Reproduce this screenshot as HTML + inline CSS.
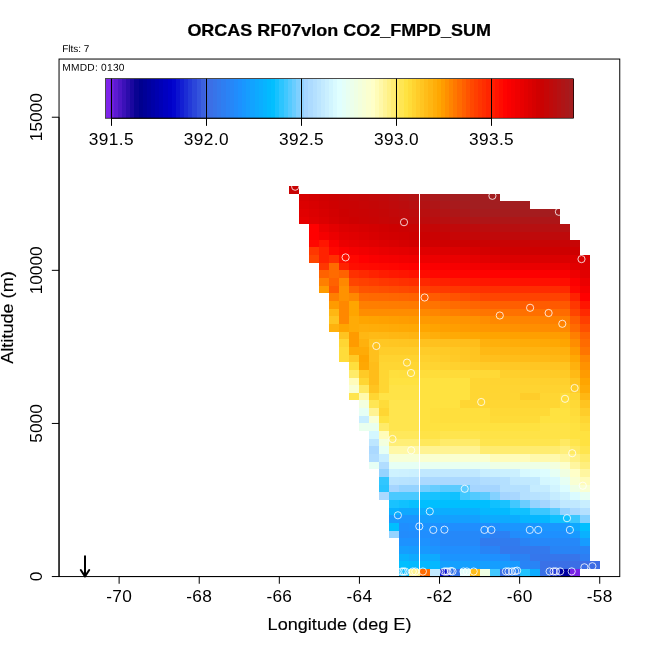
<!DOCTYPE html>
<html lang="en">
<head>
<meta charset="utf-8">
<title>ORCAS RF07vlon CO2_FMPD_SUM</title>
<style>
html,body{margin:0;padding:0;background:#fff;}
body{width:650px;height:650px;overflow:hidden;}
svg{display:block;}
text{font-family:"Liberation Sans",Arial,Helvetica,sans-serif;fill:#000;}
.t{font-size:17.28px;font-weight:bold;text-anchor:middle;stroke:#000;stroke-width:0.25px;}
.s{font-size:9.9px;}
.a{font-size:13px;text-anchor:middle;}
.l{font-size:17.28px;text-anchor:middle;}
.k{stroke:#000;stroke-width:0.15px;}
.m{letter-spacing:0.25px;}
.n{letter-spacing:0.3px;}
.c{font-size:17.28px;text-anchor:middle;letter-spacing:0.4px;}
</style>
</head>
<body>
<svg width="650" height="650" viewBox="0 0 650 650">
<rect width="650" height="650" fill="#fff"/>
<g shape-rendering="crispEdges">
<rect x="289" y="186" width="10" height="8" fill="#c90303"/>
<rect x="299" y="194" width="10" height="7" fill="#d70000"/>
<rect x="309" y="194" width="10" height="7" fill="#d30000"/>
<rect x="319" y="194" width="10" height="7" fill="#d00000"/>
<rect x="329" y="194" width="10" height="7" fill="#cc0101"/>
<rect x="339" y="194" width="10" height="7" fill="#c90303"/>
<rect x="349" y="194" width="10" height="7" fill="#c70505"/>
<rect x="359" y="194" width="10" height="7" fill="#c40606"/>
<rect x="369" y="194" width="10" height="7" fill="#c20808"/>
<rect x="379" y="194" width="10" height="7" fill="#c0090a"/>
<rect x="389" y="194" width="10" height="7" fill="#bc0c0d"/>
<rect x="399" y="194" width="10" height="7" fill="#b80f10"/>
<rect x="409" y="194" width="11" height="7" fill="#b31213"/>
<rect x="420" y="194" width="10" height="7" fill="#af1516"/>
<rect x="430" y="194" width="10" height="7" fill="#ab181a"/>
<rect x="440" y="194" width="10" height="7" fill="#a61b1d"/>
<rect x="450" y="194" width="10" height="7" fill="#a41c1e"/>
<rect x="460" y="194" width="40" height="7" fill="#a21e20"/>
<rect x="299" y="201" width="10" height="8" fill="#dc0000"/>
<rect x="309" y="201" width="10" height="8" fill="#d80000"/>
<rect x="319" y="201" width="10" height="8" fill="#d30000"/>
<rect x="329" y="201" width="10" height="8" fill="#cf0000"/>
<rect x="339" y="201" width="10" height="8" fill="#cb0202"/>
<rect x="349" y="201" width="10" height="8" fill="#c90303"/>
<rect x="359" y="201" width="10" height="8" fill="#c70505"/>
<rect x="369" y="201" width="10" height="8" fill="#c40606"/>
<rect x="379" y="201" width="10" height="8" fill="#c20808"/>
<rect x="389" y="201" width="10" height="8" fill="#bf0a0b"/>
<rect x="399" y="201" width="10" height="8" fill="#bb0c0d"/>
<rect x="409" y="201" width="11" height="8" fill="#b80f10"/>
<rect x="420" y="201" width="10" height="8" fill="#b31213"/>
<rect x="430" y="201" width="10" height="8" fill="#af1516"/>
<rect x="440" y="201" width="10" height="8" fill="#ab181a"/>
<rect x="450" y="201" width="10" height="8" fill="#a81a1c"/>
<rect x="460" y="201" width="10" height="8" fill="#a51c1e"/>
<rect x="470" y="201" width="60" height="8" fill="#a21e20"/>
<rect x="299" y="209" width="10" height="8" fill="#e10000"/>
<rect x="309" y="209" width="10" height="8" fill="#dc0000"/>
<rect x="319" y="209" width="10" height="8" fill="#d70000"/>
<rect x="329" y="209" width="10" height="8" fill="#d20000"/>
<rect x="339" y="209" width="10" height="8" fill="#cd0000"/>
<rect x="349" y="209" width="10" height="8" fill="#cb0202"/>
<rect x="359" y="209" width="10" height="8" fill="#c90303"/>
<rect x="369" y="209" width="10" height="8" fill="#c70405"/>
<rect x="379" y="209" width="10" height="8" fill="#c40606"/>
<rect x="389" y="209" width="10" height="8" fill="#c20809"/>
<rect x="399" y="209" width="10" height="8" fill="#bf0a0b"/>
<rect x="409" y="209" width="11" height="8" fill="#bc0c0d"/>
<rect x="420" y="209" width="10" height="8" fill="#b80f0f"/>
<rect x="430" y="209" width="10" height="8" fill="#b51112"/>
<rect x="440" y="209" width="10" height="8" fill="#b11415"/>
<rect x="450" y="209" width="10" height="8" fill="#ad1617"/>
<rect x="460" y="209" width="10" height="8" fill="#aa181a"/>
<rect x="470" y="209" width="30" height="8" fill="#a61b1d"/>
<rect x="500" y="209" width="10" height="8" fill="#a51c1d"/>
<rect x="510" y="209" width="30" height="8" fill="#a51c1e"/>
<rect x="540" y="209" width="20" height="8" fill="#a41c1e"/>
<rect x="299" y="217" width="10" height="7" fill="#e60000"/>
<rect x="309" y="217" width="10" height="7" fill="#e00000"/>
<rect x="319" y="217" width="10" height="7" fill="#db0000"/>
<rect x="329" y="217" width="10" height="7" fill="#d50000"/>
<rect x="339" y="217" width="10" height="7" fill="#d00000"/>
<rect x="349" y="217" width="10" height="7" fill="#cd0000"/>
<rect x="359" y="217" width="10" height="7" fill="#cb0202"/>
<rect x="369" y="217" width="10" height="7" fill="#c90303"/>
<rect x="379" y="217" width="10" height="7" fill="#c70505"/>
<rect x="389" y="217" width="10" height="7" fill="#c40606"/>
<rect x="399" y="217" width="10" height="7" fill="#c20808"/>
<rect x="409" y="217" width="11" height="7" fill="#c0090a"/>
<rect x="420" y="217" width="10" height="7" fill="#bd0b0c"/>
<rect x="430" y="217" width="10" height="7" fill="#ba0d0e"/>
<rect x="440" y="217" width="10" height="7" fill="#b80f10"/>
<rect x="450" y="217" width="10" height="7" fill="#b51112"/>
<rect x="460" y="217" width="10" height="7" fill="#b21314"/>
<rect x="470" y="217" width="10" height="7" fill="#af1516"/>
<rect x="480" y="217" width="10" height="7" fill="#af1517"/>
<rect x="490" y="217" width="10" height="7" fill="#ae1517"/>
<rect x="500" y="217" width="30" height="7" fill="#ae1617"/>
<rect x="530" y="217" width="30" height="7" fill="#ad1618"/>
<rect x="309" y="224" width="10" height="8" fill="#ff0000"/>
<rect x="319" y="224" width="10" height="8" fill="#eb0000"/>
<rect x="329" y="224" width="10" height="8" fill="#e30000"/>
<rect x="339" y="224" width="10" height="8" fill="#dc0000"/>
<rect x="349" y="224" width="10" height="8" fill="#d90000"/>
<rect x="359" y="224" width="10" height="8" fill="#d60000"/>
<rect x="369" y="224" width="10" height="8" fill="#d30000"/>
<rect x="379" y="224" width="10" height="8" fill="#d00000"/>
<rect x="389" y="224" width="10" height="8" fill="#cd0000"/>
<rect x="399" y="224" width="10" height="8" fill="#cb0102"/>
<rect x="409" y="224" width="11" height="8" fill="#c90303"/>
<rect x="420" y="224" width="10" height="8" fill="#c70505"/>
<rect x="430" y="224" width="10" height="8" fill="#c40606"/>
<rect x="440" y="224" width="10" height="8" fill="#c20808"/>
<rect x="450" y="224" width="10" height="8" fill="#c0090a"/>
<rect x="460" y="224" width="10" height="8" fill="#be0a0b"/>
<rect x="470" y="224" width="10" height="8" fill="#bd0b0c"/>
<rect x="480" y="224" width="10" height="8" fill="#bb0d0d"/>
<rect x="490" y="224" width="10" height="8" fill="#b90e0f"/>
<rect x="500" y="224" width="10" height="8" fill="#b80f10"/>
<rect x="510" y="224" width="10" height="8" fill="#b70f10"/>
<rect x="520" y="224" width="10" height="8" fill="#b71011"/>
<rect x="530" y="224" width="30" height="8" fill="#b61011"/>
<rect x="560" y="224" width="10" height="8" fill="#b51112"/>
<rect x="309" y="232" width="10" height="8" fill="#ff0000"/>
<rect x="319" y="232" width="10" height="8" fill="#f50000"/>
<rect x="329" y="232" width="10" height="8" fill="#ec0000"/>
<rect x="339" y="232" width="10" height="8" fill="#e30000"/>
<rect x="349" y="232" width="10" height="8" fill="#e00000"/>
<rect x="359" y="232" width="10" height="8" fill="#dc0000"/>
<rect x="369" y="232" width="10" height="8" fill="#d80000"/>
<rect x="379" y="232" width="10" height="8" fill="#d40000"/>
<rect x="389" y="232" width="10" height="8" fill="#d20000"/>
<rect x="399" y="232" width="10" height="8" fill="#d00000"/>
<rect x="409" y="232" width="11" height="8" fill="#cd0000"/>
<rect x="420" y="232" width="10" height="8" fill="#cb0101"/>
<rect x="430" y="232" width="10" height="8" fill="#ca0202"/>
<rect x="440" y="232" width="10" height="8" fill="#c80304"/>
<rect x="450" y="232" width="10" height="8" fill="#c70505"/>
<rect x="460" y="232" width="10" height="8" fill="#c50606"/>
<rect x="470" y="232" width="10" height="8" fill="#c30707"/>
<rect x="480" y="232" width="10" height="8" fill="#c20808"/>
<rect x="490" y="232" width="20" height="8" fill="#c0090a"/>
<rect x="510" y="232" width="10" height="8" fill="#bf090a"/>
<rect x="520" y="232" width="10" height="8" fill="#bf0a0a"/>
<rect x="530" y="232" width="20" height="8" fill="#bf0a0b"/>
<rect x="550" y="232" width="20" height="8" fill="#be0a0b"/>
<rect x="309" y="240" width="10" height="7" fill="#ff0700"/>
<rect x="319" y="240" width="10" height="7" fill="#ff1500"/>
<rect x="329" y="240" width="10" height="7" fill="#fa0000"/>
<rect x="339" y="240" width="10" height="7" fill="#eb0000"/>
<rect x="349" y="240" width="10" height="7" fill="#e70000"/>
<rect x="359" y="240" width="10" height="7" fill="#e30000"/>
<rect x="369" y="240" width="10" height="7" fill="#e00000"/>
<rect x="379" y="240" width="10" height="7" fill="#dc0000"/>
<rect x="389" y="240" width="10" height="7" fill="#d90000"/>
<rect x="399" y="240" width="10" height="7" fill="#d50000"/>
<rect x="409" y="240" width="11" height="7" fill="#d20000"/>
<rect x="420" y="240" width="10" height="7" fill="#d10000"/>
<rect x="430" y="240" width="10" height="7" fill="#d00000"/>
<rect x="440" y="240" width="10" height="7" fill="#ce0000"/>
<rect x="450" y="240" width="10" height="7" fill="#cd0000"/>
<rect x="460" y="240" width="10" height="7" fill="#cc0101"/>
<rect x="470" y="240" width="10" height="7" fill="#cb0101"/>
<rect x="480" y="240" width="10" height="7" fill="#ca0202"/>
<rect x="490" y="240" width="10" height="7" fill="#ca0203"/>
<rect x="500" y="240" width="10" height="7" fill="#c90303"/>
<rect x="510" y="240" width="10" height="7" fill="#c80303"/>
<rect x="520" y="240" width="10" height="7" fill="#c80304"/>
<rect x="530" y="240" width="10" height="7" fill="#c80404"/>
<rect x="540" y="240" width="20" height="7" fill="#c70404"/>
<rect x="560" y="240" width="10" height="7" fill="#c70405"/>
<rect x="570" y="240" width="10" height="7" fill="#c70505"/>
<rect x="309" y="247" width="10" height="8" fill="#ff3700"/>
<rect x="319" y="247" width="10" height="8" fill="#ff2200"/>
<rect x="329" y="247" width="10" height="8" fill="#ff0700"/>
<rect x="339" y="247" width="10" height="8" fill="#fc0000"/>
<rect x="349" y="247" width="10" height="8" fill="#f50000"/>
<rect x="359" y="247" width="10" height="8" fill="#f10000"/>
<rect x="369" y="247" width="10" height="8" fill="#ed0000"/>
<rect x="379" y="247" width="10" height="8" fill="#e90000"/>
<rect x="389" y="247" width="10" height="8" fill="#e60000"/>
<rect x="399" y="247" width="10" height="8" fill="#e40000"/>
<rect x="409" y="247" width="11" height="8" fill="#e10000"/>
<rect x="420" y="247" width="10" height="8" fill="#e00000"/>
<rect x="430" y="247" width="10" height="8" fill="#de0000"/>
<rect x="440" y="247" width="10" height="8" fill="#dd0000"/>
<rect x="450" y="247" width="10" height="8" fill="#db0000"/>
<rect x="460" y="247" width="10" height="8" fill="#da0000"/>
<rect x="470" y="247" width="10" height="8" fill="#d70000"/>
<rect x="480" y="247" width="10" height="8" fill="#d40000"/>
<rect x="490" y="247" width="10" height="8" fill="#d20000"/>
<rect x="500" y="247" width="10" height="8" fill="#d00000"/>
<rect x="510" y="247" width="20" height="8" fill="#cf0000"/>
<rect x="530" y="247" width="30" height="8" fill="#ce0000"/>
<rect x="560" y="247" width="20" height="8" fill="#cd0000"/>
<rect x="309" y="255" width="10" height="8" fill="#ff4500"/>
<rect x="319" y="255" width="10" height="8" fill="#ff2200"/>
<rect x="329" y="255" width="10" height="8" fill="#ff3000"/>
<rect x="339" y="255" width="10" height="8" fill="#ff0e00"/>
<rect x="349" y="255" width="10" height="8" fill="#ff0700"/>
<rect x="359" y="255" width="10" height="8" fill="#ff0000"/>
<rect x="369" y="255" width="10" height="8" fill="#fa0000"/>
<rect x="379" y="255" width="10" height="8" fill="#f70000"/>
<rect x="389" y="255" width="10" height="8" fill="#f50000"/>
<rect x="399" y="255" width="10" height="8" fill="#f20000"/>
<rect x="409" y="255" width="11" height="8" fill="#f00000"/>
<rect x="420" y="255" width="10" height="8" fill="#ee0000"/>
<rect x="430" y="255" width="10" height="8" fill="#ed0000"/>
<rect x="440" y="255" width="10" height="8" fill="#eb0000"/>
<rect x="450" y="255" width="10" height="8" fill="#ea0000"/>
<rect x="460" y="255" width="10" height="8" fill="#e90000"/>
<rect x="470" y="255" width="10" height="8" fill="#e50000"/>
<rect x="480" y="255" width="10" height="8" fill="#e20000"/>
<rect x="490" y="255" width="10" height="8" fill="#df0000"/>
<rect x="500" y="255" width="20" height="8" fill="#dc0000"/>
<rect x="520" y="255" width="30" height="8" fill="#db0000"/>
<rect x="550" y="255" width="40" height="8" fill="#da0000"/>
<rect x="319" y="263" width="10" height="7" fill="#ff3700"/>
<rect x="329" y="263" width="10" height="7" fill="#ff6b00"/>
<rect x="339" y="263" width="10" height="7" fill="#ff2200"/>
<rect x="349" y="263" width="10" height="7" fill="#ff0e00"/>
<rect x="359" y="263" width="10" height="7" fill="#ff0b00"/>
<rect x="369" y="263" width="10" height="7" fill="#ff0900"/>
<rect x="379" y="263" width="10" height="7" fill="#ff0700"/>
<rect x="389" y="263" width="10" height="7" fill="#ff0500"/>
<rect x="399" y="263" width="10" height="7" fill="#ff0200"/>
<rect x="409" y="263" width="11" height="7" fill="#ff0000"/>
<rect x="420" y="263" width="10" height="7" fill="#fd0000"/>
<rect x="430" y="263" width="10" height="7" fill="#fb0000"/>
<rect x="440" y="263" width="10" height="7" fill="#f90000"/>
<rect x="450" y="263" width="10" height="7" fill="#f70000"/>
<rect x="460" y="263" width="10" height="7" fill="#f50000"/>
<rect x="470" y="263" width="10" height="7" fill="#f30000"/>
<rect x="480" y="263" width="10" height="7" fill="#f10000"/>
<rect x="490" y="263" width="10" height="7" fill="#ef0000"/>
<rect x="500" y="263" width="10" height="7" fill="#ed0000"/>
<rect x="510" y="263" width="10" height="7" fill="#eb0000"/>
<rect x="520" y="263" width="30" height="7" fill="#ea0000"/>
<rect x="550" y="263" width="20" height="7" fill="#e90000"/>
<rect x="570" y="263" width="10" height="7" fill="#e10000"/>
<rect x="580" y="263" width="10" height="7" fill="#de0000"/>
<rect x="319" y="270" width="10" height="8" fill="#ff6200"/>
<rect x="329" y="270" width="10" height="8" fill="#ff6b00"/>
<rect x="339" y="270" width="10" height="8" fill="#ff6200"/>
<rect x="349" y="270" width="10" height="8" fill="#ff3000"/>
<rect x="359" y="270" width="10" height="8" fill="#ff2900"/>
<rect x="369" y="270" width="10" height="8" fill="#ff2200"/>
<rect x="379" y="270" width="10" height="8" fill="#ff1c00"/>
<rect x="389" y="270" width="10" height="8" fill="#ff1800"/>
<rect x="399" y="270" width="10" height="8" fill="#ff1500"/>
<rect x="409" y="270" width="11" height="8" fill="#ff1100"/>
<rect x="420" y="270" width="10" height="8" fill="#ff0c00"/>
<rect x="430" y="270" width="10" height="8" fill="#ff0700"/>
<rect x="440" y="270" width="10" height="8" fill="#ff0600"/>
<rect x="450" y="270" width="10" height="8" fill="#ff0500"/>
<rect x="460" y="270" width="10" height="8" fill="#ff0400"/>
<rect x="470" y="270" width="20" height="8" fill="#ff0300"/>
<rect x="490" y="270" width="10" height="8" fill="#ff0200"/>
<rect x="500" y="270" width="10" height="8" fill="#ff0100"/>
<rect x="510" y="270" width="10" height="8" fill="#ff0000"/>
<rect x="520" y="270" width="10" height="8" fill="#fe0000"/>
<rect x="530" y="270" width="10" height="8" fill="#fd0000"/>
<rect x="540" y="270" width="10" height="8" fill="#fc0000"/>
<rect x="550" y="270" width="10" height="8" fill="#fb0000"/>
<rect x="560" y="270" width="10" height="8" fill="#fa0000"/>
<rect x="570" y="270" width="10" height="8" fill="#ee0000"/>
<rect x="580" y="270" width="10" height="8" fill="#e10000"/>
<rect x="319" y="278" width="10" height="8" fill="#ff7f00"/>
<rect x="329" y="278" width="10" height="8" fill="#ff6200"/>
<rect x="339" y="278" width="10" height="8" fill="#ff8800"/>
<rect x="349" y="278" width="10" height="8" fill="#ff4500"/>
<rect x="359" y="278" width="10" height="8" fill="#ff4000"/>
<rect x="369" y="278" width="10" height="8" fill="#ff3c00"/>
<rect x="379" y="278" width="10" height="8" fill="#ff3700"/>
<rect x="389" y="278" width="10" height="8" fill="#ff3400"/>
<rect x="399" y="278" width="10" height="8" fill="#ff3000"/>
<rect x="409" y="278" width="11" height="8" fill="#ff2d00"/>
<rect x="420" y="278" width="10" height="8" fill="#ff2800"/>
<rect x="430" y="278" width="10" height="8" fill="#ff2200"/>
<rect x="440" y="278" width="10" height="8" fill="#ff2000"/>
<rect x="450" y="278" width="10" height="8" fill="#ff1d00"/>
<rect x="460" y="278" width="10" height="8" fill="#ff1b00"/>
<rect x="470" y="278" width="10" height="8" fill="#ff1800"/>
<rect x="480" y="278" width="10" height="8" fill="#ff1700"/>
<rect x="490" y="278" width="10" height="8" fill="#ff1500"/>
<rect x="500" y="278" width="10" height="8" fill="#ff1400"/>
<rect x="510" y="278" width="10" height="8" fill="#ff1300"/>
<rect x="520" y="278" width="10" height="8" fill="#ff1100"/>
<rect x="530" y="278" width="20" height="8" fill="#ff1000"/>
<rect x="550" y="278" width="10" height="8" fill="#ff0f00"/>
<rect x="560" y="278" width="10" height="8" fill="#ff0e00"/>
<rect x="570" y="278" width="10" height="8" fill="#fc0000"/>
<rect x="580" y="278" width="10" height="8" fill="#eb0000"/>
<rect x="319" y="286" width="10" height="7" fill="#ff9b00"/>
<rect x="329" y="286" width="10" height="7" fill="#ff5800"/>
<rect x="339" y="286" width="10" height="7" fill="#ff9200"/>
<rect x="349" y="286" width="10" height="7" fill="#ff6200"/>
<rect x="359" y="286" width="10" height="7" fill="#ff5300"/>
<rect x="369" y="286" width="10" height="7" fill="#ff5100"/>
<rect x="379" y="286" width="10" height="7" fill="#ff4e00"/>
<rect x="389" y="286" width="10" height="7" fill="#ff4b00"/>
<rect x="399" y="286" width="10" height="7" fill="#ff4800"/>
<rect x="409" y="286" width="11" height="7" fill="#ff4500"/>
<rect x="420" y="286" width="10" height="7" fill="#ff4000"/>
<rect x="430" y="286" width="10" height="7" fill="#ff3b00"/>
<rect x="440" y="286" width="10" height="7" fill="#ff3900"/>
<rect x="450" y="286" width="10" height="7" fill="#ff3700"/>
<rect x="460" y="286" width="10" height="7" fill="#ff3400"/>
<rect x="470" y="286" width="10" height="7" fill="#ff3200"/>
<rect x="480" y="286" width="10" height="7" fill="#ff3000"/>
<rect x="490" y="286" width="20" height="7" fill="#ff2f00"/>
<rect x="510" y="286" width="10" height="7" fill="#ff2e00"/>
<rect x="520" y="286" width="10" height="7" fill="#ff2d00"/>
<rect x="530" y="286" width="10" height="7" fill="#ff2c00"/>
<rect x="540" y="286" width="10" height="7" fill="#ff2b00"/>
<rect x="550" y="286" width="10" height="7" fill="#ff2a00"/>
<rect x="560" y="286" width="10" height="7" fill="#ff2900"/>
<rect x="570" y="286" width="10" height="7" fill="#ff0700"/>
<rect x="580" y="286" width="10" height="7" fill="#f50000"/>
<rect x="329" y="293" width="10" height="8" fill="#ff7f00"/>
<rect x="339" y="293" width="10" height="8" fill="#ff9200"/>
<rect x="349" y="293" width="10" height="8" fill="#ff8800"/>
<rect x="359" y="293" width="10" height="8" fill="#ff6b00"/>
<rect x="369" y="293" width="10" height="8" fill="#ff6900"/>
<rect x="379" y="293" width="10" height="8" fill="#ff6800"/>
<rect x="389" y="293" width="10" height="8" fill="#ff6600"/>
<rect x="399" y="293" width="10" height="8" fill="#ff6400"/>
<rect x="409" y="293" width="11" height="8" fill="#ff6200"/>
<rect x="420" y="293" width="10" height="8" fill="#ff5e00"/>
<rect x="430" y="293" width="10" height="8" fill="#ff5b00"/>
<rect x="440" y="293" width="10" height="8" fill="#ff5700"/>
<rect x="450" y="293" width="10" height="8" fill="#ff5300"/>
<rect x="460" y="293" width="10" height="8" fill="#ff4f00"/>
<rect x="470" y="293" width="10" height="8" fill="#ff4a00"/>
<rect x="480" y="293" width="20" height="8" fill="#ff4500"/>
<rect x="500" y="293" width="20" height="8" fill="#ff4400"/>
<rect x="520" y="293" width="20" height="8" fill="#ff4300"/>
<rect x="540" y="293" width="30" height="8" fill="#ff4200"/>
<rect x="570" y="293" width="10" height="8" fill="#ff2200"/>
<rect x="580" y="293" width="10" height="8" fill="#ff0000"/>
<rect x="329" y="301" width="10" height="8" fill="#ff9b00"/>
<rect x="339" y="301" width="10" height="8" fill="#ff8800"/>
<rect x="349" y="301" width="10" height="8" fill="#ffa500"/>
<rect x="359" y="301" width="10" height="8" fill="#ff7f00"/>
<rect x="369" y="301" width="10" height="8" fill="#ff7e00"/>
<rect x="379" y="301" width="10" height="8" fill="#ff7d00"/>
<rect x="389" y="301" width="10" height="8" fill="#ff7c00"/>
<rect x="399" y="301" width="10" height="8" fill="#ff7b00"/>
<rect x="409" y="301" width="11" height="8" fill="#ff7a00"/>
<rect x="420" y="301" width="10" height="8" fill="#ff7600"/>
<rect x="430" y="301" width="10" height="8" fill="#ff7300"/>
<rect x="440" y="301" width="10" height="8" fill="#ff6f00"/>
<rect x="450" y="301" width="10" height="8" fill="#ff6b00"/>
<rect x="460" y="301" width="10" height="8" fill="#ff6800"/>
<rect x="470" y="301" width="10" height="8" fill="#ff6500"/>
<rect x="480" y="301" width="10" height="8" fill="#ff6200"/>
<rect x="490" y="301" width="10" height="8" fill="#ff6100"/>
<rect x="500" y="301" width="10" height="8" fill="#ff5f00"/>
<rect x="510" y="301" width="10" height="8" fill="#ff5e00"/>
<rect x="520" y="301" width="10" height="8" fill="#ff5d00"/>
<rect x="530" y="301" width="10" height="8" fill="#ff5c00"/>
<rect x="540" y="301" width="10" height="8" fill="#ff5b00"/>
<rect x="550" y="301" width="10" height="8" fill="#ff5900"/>
<rect x="560" y="301" width="10" height="8" fill="#ff5800"/>
<rect x="570" y="301" width="10" height="8" fill="#ff3700"/>
<rect x="580" y="301" width="10" height="8" fill="#ff1500"/>
<rect x="329" y="309" width="10" height="7" fill="#ffb713"/>
<rect x="339" y="309" width="10" height="7" fill="#ff8800"/>
<rect x="349" y="309" width="10" height="7" fill="#ffa500"/>
<rect x="359" y="309" width="61" height="7" fill="#ff8d00"/>
<rect x="420" y="309" width="10" height="7" fill="#ff8900"/>
<rect x="430" y="309" width="10" height="7" fill="#ff8600"/>
<rect x="440" y="309" width="10" height="7" fill="#ff8200"/>
<rect x="450" y="309" width="10" height="7" fill="#ff7f00"/>
<rect x="460" y="309" width="10" height="7" fill="#ff7b00"/>
<rect x="470" y="309" width="10" height="7" fill="#ff7800"/>
<rect x="480" y="309" width="10" height="7" fill="#ff7500"/>
<rect x="490" y="309" width="10" height="7" fill="#ff7400"/>
<rect x="500" y="309" width="10" height="7" fill="#ff7300"/>
<rect x="510" y="309" width="10" height="7" fill="#ff7100"/>
<rect x="520" y="309" width="10" height="7" fill="#ff7000"/>
<rect x="530" y="309" width="10" height="7" fill="#ff6f00"/>
<rect x="540" y="309" width="10" height="7" fill="#ff6e00"/>
<rect x="550" y="309" width="10" height="7" fill="#ff6d00"/>
<rect x="560" y="309" width="10" height="7" fill="#ff6b00"/>
<rect x="570" y="309" width="10" height="7" fill="#ff4500"/>
<rect x="580" y="309" width="10" height="7" fill="#ff2900"/>
<rect x="329" y="316" width="10" height="8" fill="#ffc420"/>
<rect x="339" y="316" width="10" height="8" fill="#ff8800"/>
<rect x="349" y="316" width="10" height="8" fill="#ffab06"/>
<rect x="359" y="316" width="10" height="8" fill="#ffa500"/>
<rect x="369" y="316" width="10" height="8" fill="#ffa300"/>
<rect x="379" y="316" width="10" height="8" fill="#ffa100"/>
<rect x="389" y="316" width="10" height="8" fill="#ff9f00"/>
<rect x="399" y="316" width="10" height="8" fill="#ff9d00"/>
<rect x="409" y="316" width="11" height="8" fill="#ff9b00"/>
<rect x="420" y="316" width="10" height="8" fill="#ff9a00"/>
<rect x="430" y="316" width="10" height="8" fill="#ff9800"/>
<rect x="440" y="316" width="10" height="8" fill="#ff9700"/>
<rect x="450" y="316" width="10" height="8" fill="#ff9500"/>
<rect x="460" y="316" width="10" height="8" fill="#ff9300"/>
<rect x="470" y="316" width="10" height="8" fill="#ff9200"/>
<rect x="480" y="316" width="10" height="8" fill="#ff8d00"/>
<rect x="490" y="316" width="10" height="8" fill="#ff8800"/>
<rect x="500" y="316" width="10" height="8" fill="#ff8700"/>
<rect x="510" y="316" width="10" height="8" fill="#ff8500"/>
<rect x="520" y="316" width="10" height="8" fill="#ff8400"/>
<rect x="530" y="316" width="10" height="8" fill="#ff8300"/>
<rect x="540" y="316" width="10" height="8" fill="#ff8100"/>
<rect x="550" y="316" width="10" height="8" fill="#ff8000"/>
<rect x="560" y="316" width="10" height="8" fill="#ff7f00"/>
<rect x="570" y="316" width="10" height="8" fill="#ff5d00"/>
<rect x="580" y="316" width="10" height="8" fill="#ff3e00"/>
<rect x="329" y="324" width="10" height="8" fill="#ffb10d"/>
<rect x="339" y="324" width="10" height="8" fill="#ffa500"/>
<rect x="349" y="324" width="10" height="8" fill="#ffab06"/>
<rect x="359" y="324" width="10" height="8" fill="#ffae0a"/>
<rect x="369" y="324" width="10" height="8" fill="#ffad08"/>
<rect x="379" y="324" width="10" height="8" fill="#ffac07"/>
<rect x="389" y="324" width="10" height="8" fill="#ffaa06"/>
<rect x="399" y="324" width="10" height="8" fill="#ffa904"/>
<rect x="409" y="324" width="11" height="8" fill="#ffa803"/>
<rect x="420" y="324" width="10" height="8" fill="#ffa601"/>
<rect x="430" y="324" width="10" height="8" fill="#ffa300"/>
<rect x="440" y="324" width="10" height="8" fill="#ffa000"/>
<rect x="450" y="324" width="10" height="8" fill="#ff9e00"/>
<rect x="460" y="324" width="10" height="8" fill="#ff9b00"/>
<rect x="470" y="324" width="10" height="8" fill="#ff9900"/>
<rect x="480" y="324" width="10" height="8" fill="#ff9700"/>
<rect x="490" y="324" width="10" height="8" fill="#ff9500"/>
<rect x="500" y="324" width="10" height="8" fill="#ff9300"/>
<rect x="510" y="324" width="10" height="8" fill="#ff9100"/>
<rect x="520" y="324" width="10" height="8" fill="#ff8f00"/>
<rect x="530" y="324" width="10" height="8" fill="#ff8e00"/>
<rect x="540" y="324" width="10" height="8" fill="#ff8c00"/>
<rect x="550" y="324" width="10" height="8" fill="#ff8a00"/>
<rect x="560" y="324" width="10" height="8" fill="#ff8800"/>
<rect x="570" y="324" width="10" height="8" fill="#ff6b00"/>
<rect x="580" y="324" width="10" height="8" fill="#ff4f00"/>
<rect x="339" y="332" width="10" height="7" fill="#ffc420"/>
<rect x="349" y="332" width="10" height="7" fill="#ff9b00"/>
<rect x="359" y="332" width="10" height="7" fill="#ffb713"/>
<rect x="369" y="332" width="10" height="7" fill="#ffba16"/>
<rect x="379" y="332" width="10" height="7" fill="#ffb915"/>
<rect x="389" y="332" width="10" height="7" fill="#ffb713"/>
<rect x="399" y="332" width="10" height="7" fill="#ffb612"/>
<rect x="409" y="332" width="11" height="7" fill="#ffb410"/>
<rect x="420" y="332" width="10" height="7" fill="#ffb10d"/>
<rect x="430" y="332" width="10" height="7" fill="#ffae0a"/>
<rect x="440" y="332" width="10" height="7" fill="#ffab06"/>
<rect x="450" y="332" width="10" height="7" fill="#ffaa05"/>
<rect x="460" y="332" width="10" height="7" fill="#ffa803"/>
<rect x="470" y="332" width="10" height="7" fill="#ffa702"/>
<rect x="480" y="332" width="10" height="7" fill="#ffa500"/>
<rect x="490" y="332" width="10" height="7" fill="#ffa400"/>
<rect x="500" y="332" width="10" height="7" fill="#ffa300"/>
<rect x="510" y="332" width="10" height="7" fill="#ffa100"/>
<rect x="520" y="332" width="10" height="7" fill="#ffa000"/>
<rect x="530" y="332" width="10" height="7" fill="#ff9f00"/>
<rect x="540" y="332" width="10" height="7" fill="#ff9e00"/>
<rect x="550" y="332" width="10" height="7" fill="#ff9d00"/>
<rect x="560" y="332" width="10" height="7" fill="#ff9b00"/>
<rect x="570" y="332" width="10" height="7" fill="#ff7f00"/>
<rect x="580" y="332" width="10" height="7" fill="#ff6200"/>
<rect x="339" y="339" width="10" height="8" fill="#ffd633"/>
<rect x="349" y="339" width="10" height="8" fill="#ff9b00"/>
<rect x="359" y="339" width="10" height="8" fill="#ffb10d"/>
<rect x="369" y="339" width="10" height="8" fill="#ffc420"/>
<rect x="379" y="339" width="10" height="8" fill="#ffc723"/>
<rect x="389" y="339" width="10" height="8" fill="#ffc622"/>
<rect x="399" y="339" width="10" height="8" fill="#ffc521"/>
<rect x="409" y="339" width="11" height="8" fill="#ffc420"/>
<rect x="420" y="339" width="10" height="8" fill="#ffc21f"/>
<rect x="430" y="339" width="10" height="8" fill="#ffc11e"/>
<rect x="440" y="339" width="10" height="8" fill="#ffc01d"/>
<rect x="450" y="339" width="10" height="8" fill="#ffbf1c"/>
<rect x="460" y="339" width="10" height="8" fill="#ffbe1b"/>
<rect x="470" y="339" width="10" height="8" fill="#ffbd1a"/>
<rect x="480" y="339" width="10" height="8" fill="#ffb10d"/>
<rect x="490" y="339" width="10" height="8" fill="#ffb00b"/>
<rect x="500" y="339" width="10" height="8" fill="#ffaf0a"/>
<rect x="510" y="339" width="10" height="8" fill="#ffad09"/>
<rect x="520" y="339" width="10" height="8" fill="#ffac07"/>
<rect x="530" y="339" width="10" height="8" fill="#ffab06"/>
<rect x="540" y="339" width="10" height="8" fill="#ffa905"/>
<rect x="550" y="339" width="10" height="8" fill="#ffa803"/>
<rect x="560" y="339" width="10" height="8" fill="#ffa500"/>
<rect x="570" y="339" width="10" height="8" fill="#ff8d00"/>
<rect x="580" y="339" width="10" height="8" fill="#ff6b00"/>
<rect x="339" y="347" width="10" height="8" fill="#ffdc3a"/>
<rect x="349" y="347" width="20" height="8" fill="#ffab06"/>
<rect x="369" y="347" width="10" height="8" fill="#ffc01d"/>
<rect x="379" y="347" width="41" height="8" fill="#ffcd2a"/>
<rect x="420" y="347" width="10" height="8" fill="#ffcc29"/>
<rect x="430" y="347" width="10" height="8" fill="#ffcb27"/>
<rect x="440" y="347" width="10" height="8" fill="#ffca26"/>
<rect x="450" y="347" width="10" height="8" fill="#ffc824"/>
<rect x="460" y="347" width="10" height="8" fill="#ffc622"/>
<rect x="470" y="347" width="10" height="8" fill="#ffc420"/>
<rect x="480" y="347" width="10" height="8" fill="#ffb914"/>
<rect x="490" y="347" width="10" height="8" fill="#ffb814"/>
<rect x="500" y="347" width="10" height="8" fill="#ffb713"/>
<rect x="510" y="347" width="10" height="8" fill="#ffb612"/>
<rect x="520" y="347" width="10" height="8" fill="#ffb511"/>
<rect x="530" y="347" width="10" height="8" fill="#ffb410"/>
<rect x="540" y="347" width="10" height="8" fill="#ffb30f"/>
<rect x="550" y="347" width="10" height="8" fill="#ffb20e"/>
<rect x="560" y="347" width="10" height="8" fill="#ffb10d"/>
<rect x="570" y="347" width="10" height="8" fill="#ff9b00"/>
<rect x="580" y="347" width="10" height="8" fill="#ff7500"/>
<rect x="339" y="355" width="10" height="7" fill="#ffdc3a"/>
<rect x="349" y="355" width="10" height="7" fill="#ffca26"/>
<rect x="359" y="355" width="10" height="7" fill="#ffa500"/>
<rect x="369" y="355" width="10" height="7" fill="#ffc01d"/>
<rect x="379" y="355" width="41" height="7" fill="#ffd330"/>
<rect x="420" y="355" width="10" height="7" fill="#ffd12e"/>
<rect x="430" y="355" width="10" height="7" fill="#ffcf2c"/>
<rect x="440" y="355" width="10" height="7" fill="#ffcd2a"/>
<rect x="450" y="355" width="10" height="7" fill="#ffca27"/>
<rect x="460" y="355" width="10" height="7" fill="#ffc724"/>
<rect x="470" y="355" width="10" height="7" fill="#ffc521"/>
<rect x="480" y="355" width="10" height="7" fill="#ffc01d"/>
<rect x="490" y="355" width="10" height="7" fill="#ffbf1c"/>
<rect x="500" y="355" width="10" height="7" fill="#ffbe1a"/>
<rect x="510" y="355" width="10" height="7" fill="#ffbd19"/>
<rect x="520" y="355" width="10" height="7" fill="#ffbc18"/>
<rect x="530" y="355" width="10" height="7" fill="#ffbb17"/>
<rect x="540" y="355" width="10" height="7" fill="#ffba16"/>
<rect x="550" y="355" width="10" height="7" fill="#ffb814"/>
<rect x="560" y="355" width="10" height="7" fill="#ffb713"/>
<rect x="570" y="355" width="10" height="7" fill="#ffa803"/>
<rect x="580" y="355" width="10" height="7" fill="#ff8800"/>
<rect x="349" y="362" width="10" height="8" fill="#ffdf3d"/>
<rect x="359" y="362" width="10" height="8" fill="#ffa803"/>
<rect x="369" y="362" width="10" height="8" fill="#ffbd1a"/>
<rect x="379" y="362" width="41" height="8" fill="#ffd633"/>
<rect x="420" y="362" width="10" height="8" fill="#ffd532"/>
<rect x="430" y="362" width="10" height="8" fill="#ffd431"/>
<rect x="440" y="362" width="10" height="8" fill="#ffd330"/>
<rect x="450" y="362" width="10" height="8" fill="#ffd12e"/>
<rect x="460" y="362" width="10" height="8" fill="#ffcf2c"/>
<rect x="470" y="362" width="10" height="8" fill="#ffcd2a"/>
<rect x="480" y="362" width="10" height="8" fill="#ffcb28"/>
<rect x="490" y="362" width="10" height="8" fill="#ffca27"/>
<rect x="500" y="362" width="10" height="8" fill="#ffc926"/>
<rect x="510" y="362" width="10" height="8" fill="#ffc825"/>
<rect x="520" y="362" width="10" height="8" fill="#ffc724"/>
<rect x="530" y="362" width="10" height="8" fill="#ffc623"/>
<rect x="540" y="362" width="10" height="8" fill="#ffc522"/>
<rect x="550" y="362" width="10" height="8" fill="#ffc421"/>
<rect x="560" y="362" width="10" height="8" fill="#ffc420"/>
<rect x="570" y="362" width="10" height="8" fill="#ffb10d"/>
<rect x="580" y="362" width="10" height="8" fill="#ff9200"/>
<rect x="349" y="370" width="10" height="8" fill="#ffeb69"/>
<rect x="359" y="370" width="10" height="8" fill="#ffca26"/>
<rect x="369" y="370" width="10" height="8" fill="#ffbd1a"/>
<rect x="379" y="370" width="10" height="8" fill="#ffd633"/>
<rect x="389" y="370" width="10" height="8" fill="#ffdf3d"/>
<rect x="399" y="370" width="21" height="8" fill="#ffde3c"/>
<rect x="420" y="370" width="10" height="8" fill="#ffdd3b"/>
<rect x="430" y="370" width="10" height="8" fill="#ffdd3a"/>
<rect x="440" y="370" width="10" height="8" fill="#ffdc3a"/>
<rect x="450" y="370" width="10" height="8" fill="#ffdb39"/>
<rect x="460" y="370" width="10" height="8" fill="#ffdb38"/>
<rect x="470" y="370" width="10" height="8" fill="#ffda38"/>
<rect x="480" y="370" width="10" height="8" fill="#ffd937"/>
<rect x="490" y="370" width="10" height="8" fill="#ffd936"/>
<rect x="500" y="370" width="10" height="8" fill="#ffd02d"/>
<rect x="510" y="370" width="10" height="8" fill="#ffcf2c"/>
<rect x="520" y="370" width="10" height="8" fill="#ffce2b"/>
<rect x="530" y="370" width="10" height="8" fill="#ffcd2a"/>
<rect x="540" y="370" width="10" height="8" fill="#ffcc29"/>
<rect x="550" y="370" width="10" height="8" fill="#ffcb27"/>
<rect x="560" y="370" width="10" height="8" fill="#ffca26"/>
<rect x="570" y="370" width="10" height="8" fill="#ffba16"/>
<rect x="580" y="370" width="10" height="8" fill="#ff9b00"/>
<rect x="349" y="378" width="10" height="7" fill="#fffcba"/>
<rect x="359" y="378" width="10" height="7" fill="#ffd633"/>
<rect x="369" y="378" width="10" height="7" fill="#ffbd1a"/>
<rect x="379" y="378" width="10" height="7" fill="#ffd633"/>
<rect x="389" y="378" width="81" height="7" fill="#ffe240"/>
<rect x="470" y="378" width="10" height="7" fill="#ffd633"/>
<rect x="480" y="378" width="10" height="7" fill="#ffd532"/>
<rect x="490" y="378" width="10" height="7" fill="#ffd432"/>
<rect x="500" y="378" width="10" height="7" fill="#ffd431"/>
<rect x="510" y="378" width="10" height="7" fill="#ffd330"/>
<rect x="520" y="378" width="10" height="7" fill="#ffd230"/>
<rect x="530" y="378" width="10" height="7" fill="#ffd22f"/>
<rect x="540" y="378" width="10" height="7" fill="#ffd12e"/>
<rect x="550" y="378" width="10" height="7" fill="#ffd02e"/>
<rect x="560" y="378" width="10" height="7" fill="#ffd02d"/>
<rect x="570" y="378" width="10" height="7" fill="#ffc420"/>
<rect x="580" y="378" width="10" height="7" fill="#ffa500"/>
<rect x="349" y="385" width="10" height="8" fill="#f9ffd3"/>
<rect x="359" y="385" width="10" height="8" fill="#ffe962"/>
<rect x="369" y="385" width="10" height="8" fill="#ffc420"/>
<rect x="379" y="385" width="10" height="8" fill="#ffd633"/>
<rect x="389" y="385" width="31" height="8" fill="#ffe347"/>
<rect x="420" y="385" width="50" height="8" fill="#ffe240"/>
<rect x="470" y="385" width="10" height="8" fill="#ffd633"/>
<rect x="480" y="385" width="10" height="8" fill="#ffd533"/>
<rect x="490" y="385" width="20" height="8" fill="#ffd532"/>
<rect x="510" y="385" width="10" height="8" fill="#ffd432"/>
<rect x="520" y="385" width="20" height="8" fill="#ffd431"/>
<rect x="540" y="385" width="10" height="8" fill="#ffd331"/>
<rect x="550" y="385" width="20" height="8" fill="#ffd330"/>
<rect x="570" y="385" width="10" height="8" fill="#ffcd2a"/>
<rect x="580" y="385" width="10" height="8" fill="#ffab06"/>
<rect x="349" y="393" width="10" height="7" fill="#ffe54e"/>
<rect x="359" y="393" width="10" height="7" fill="#fff9ad"/>
<rect x="369" y="393" width="10" height="7" fill="#ffd633"/>
<rect x="379" y="393" width="41" height="7" fill="#ffe347"/>
<rect x="420" y="393" width="50" height="7" fill="#ffe240"/>
<rect x="470" y="393" width="10" height="7" fill="#ffd633"/>
<rect x="480" y="393" width="20" height="7" fill="#ffd533"/>
<rect x="500" y="393" width="20" height="7" fill="#ffd532"/>
<rect x="520" y="393" width="20" height="7" fill="#ffcd2a"/>
<rect x="540" y="393" width="20" height="7" fill="#ffd633"/>
<rect x="560" y="393" width="10" height="7" fill="#ffdc3a"/>
<rect x="570" y="393" width="10" height="7" fill="#ffd633"/>
<rect x="580" y="393" width="10" height="7" fill="#ffb713"/>
<rect x="359" y="400" width="10" height="8" fill="#f3ffde"/>
<rect x="369" y="400" width="10" height="8" fill="#ffe654"/>
<rect x="379" y="400" width="10" height="8" fill="#ffdc3a"/>
<rect x="389" y="400" width="31" height="8" fill="#ffe54e"/>
<rect x="420" y="400" width="40" height="8" fill="#ffe240"/>
<rect x="460" y="400" width="100" height="8" fill="#ffd633"/>
<rect x="560" y="400" width="10" height="8" fill="#ffdf3d"/>
<rect x="570" y="400" width="10" height="8" fill="#ffd936"/>
<rect x="580" y="400" width="10" height="8" fill="#ffc420"/>
<rect x="359" y="408" width="10" height="8" fill="#e6fff4"/>
<rect x="369" y="408" width="10" height="8" fill="#fff392"/>
<rect x="379" y="408" width="10" height="8" fill="#ffd633"/>
<rect x="389" y="408" width="31" height="8" fill="#ffe54e"/>
<rect x="420" y="408" width="10" height="8" fill="#ffe240"/>
<rect x="430" y="408" width="10" height="8" fill="#ffe03e"/>
<rect x="440" y="408" width="50" height="8" fill="#ffdf3d"/>
<rect x="490" y="408" width="60" height="8" fill="#ffd936"/>
<rect x="550" y="408" width="20" height="8" fill="#ffe240"/>
<rect x="570" y="408" width="10" height="8" fill="#ffdc3a"/>
<rect x="580" y="408" width="10" height="8" fill="#ffcd2a"/>
<rect x="359" y="416" width="10" height="7" fill="#c8eeff"/>
<rect x="369" y="416" width="10" height="7" fill="#f9ffd3"/>
<rect x="379" y="416" width="10" height="7" fill="#ffe240"/>
<rect x="389" y="416" width="31" height="7" fill="#ffe54e"/>
<rect x="420" y="416" width="10" height="7" fill="#ffe240"/>
<rect x="430" y="416" width="10" height="7" fill="#ffe03e"/>
<rect x="440" y="416" width="50" height="7" fill="#ffdf3d"/>
<rect x="490" y="416" width="50" height="7" fill="#ffdb38"/>
<rect x="540" y="416" width="30" height="7" fill="#ffe240"/>
<rect x="570" y="416" width="10" height="7" fill="#ffdf3d"/>
<rect x="580" y="416" width="10" height="7" fill="#ffd633"/>
<rect x="359" y="423" width="20" height="8" fill="#e9ffee"/>
<rect x="379" y="423" width="10" height="8" fill="#ffeb69"/>
<rect x="389" y="423" width="31" height="8" fill="#ffe54e"/>
<rect x="420" y="423" width="120" height="8" fill="#ffe240"/>
<rect x="540" y="423" width="30" height="8" fill="#ffe347"/>
<rect x="570" y="423" width="10" height="8" fill="#ffe240"/>
<rect x="580" y="423" width="10" height="8" fill="#ffdc3a"/>
<rect x="369" y="431" width="10" height="8" fill="#d4f7ff"/>
<rect x="379" y="431" width="10" height="8" fill="#fffcba"/>
<rect x="389" y="431" width="31" height="8" fill="#ffe85b"/>
<rect x="420" y="431" width="20" height="8" fill="#ffe347"/>
<rect x="440" y="431" width="40" height="8" fill="#ffe54e"/>
<rect x="480" y="431" width="90" height="8" fill="#ffe347"/>
<rect x="570" y="431" width="20" height="8" fill="#ffe240"/>
<rect x="369" y="439" width="10" height="7" fill="#bde6ff"/>
<rect x="379" y="439" width="10" height="7" fill="#f3ffde"/>
<rect x="389" y="439" width="31" height="7" fill="#ffee76"/>
<rect x="420" y="439" width="20" height="7" fill="#ffe85b"/>
<rect x="440" y="439" width="40" height="7" fill="#ffeb69"/>
<rect x="480" y="439" width="80" height="7" fill="#ffe54e"/>
<rect x="560" y="439" width="10" height="7" fill="#ffe962"/>
<rect x="570" y="439" width="10" height="7" fill="#ffe54e"/>
<rect x="580" y="439" width="10" height="7" fill="#ffe240"/>
<rect x="369" y="446" width="10" height="8" fill="#abd9ff"/>
<rect x="379" y="446" width="10" height="8" fill="#e6fff4"/>
<rect x="389" y="446" width="31" height="8" fill="#fff8a6"/>
<rect x="420" y="446" width="60" height="8" fill="#fff392"/>
<rect x="480" y="446" width="80" height="8" fill="#ffec70"/>
<rect x="560" y="446" width="10" height="8" fill="#ffef7d"/>
<rect x="570" y="446" width="10" height="8" fill="#ffe962"/>
<rect x="580" y="446" width="10" height="8" fill="#ffe54e"/>
<rect x="369" y="454" width="10" height="8" fill="#b1ddff"/>
<rect x="379" y="454" width="10" height="8" fill="#c8eeff"/>
<rect x="389" y="454" width="31" height="8" fill="#f7ffd6"/>
<rect x="420" y="454" width="70" height="8" fill="#faffd0"/>
<rect x="490" y="454" width="40" height="8" fill="#fffcba"/>
<rect x="530" y="454" width="30" height="8" fill="#fff9ad"/>
<rect x="560" y="454" width="10" height="8" fill="#fff69f"/>
<rect x="570" y="454" width="10" height="8" fill="#fff084"/>
<rect x="580" y="454" width="10" height="8" fill="#ffeb69"/>
<rect x="369" y="462" width="10" height="7" fill="#e6fff4"/>
<rect x="379" y="462" width="10" height="7" fill="#b1ddff"/>
<rect x="389" y="462" width="31" height="7" fill="#e6fff4"/>
<rect x="420" y="462" width="70" height="7" fill="#e8fff1"/>
<rect x="490" y="462" width="60" height="7" fill="#eeffe6"/>
<rect x="550" y="462" width="10" height="7" fill="#f3ffde"/>
<rect x="560" y="462" width="10" height="7" fill="#fcffcd"/>
<rect x="570" y="462" width="10" height="7" fill="#fff69f"/>
<rect x="580" y="462" width="10" height="7" fill="#ffef7d"/>
<rect x="379" y="469" width="10" height="8" fill="#95d3ff"/>
<rect x="389" y="469" width="10" height="8" fill="#cef2ff"/>
<rect x="399" y="469" width="10" height="8" fill="#cdf1ff"/>
<rect x="409" y="469" width="11" height="8" fill="#cbf0ff"/>
<rect x="420" y="469" width="60" height="8" fill="#c0e8ff"/>
<rect x="480" y="469" width="10" height="8" fill="#c8eeff"/>
<rect x="490" y="469" width="10" height="8" fill="#c9efff"/>
<rect x="500" y="469" width="10" height="8" fill="#caf0ff"/>
<rect x="510" y="469" width="10" height="8" fill="#cbf0ff"/>
<rect x="520" y="469" width="10" height="8" fill="#d7f9ff"/>
<rect x="530" y="469" width="10" height="8" fill="#dafbff"/>
<rect x="540" y="469" width="10" height="8" fill="#ddfdff"/>
<rect x="550" y="469" width="10" height="8" fill="#e6fff4"/>
<rect x="560" y="469" width="10" height="8" fill="#f1ffe1"/>
<rect x="570" y="469" width="10" height="8" fill="#ffffc8"/>
<rect x="580" y="469" width="10" height="8" fill="#fff69f"/>
<rect x="379" y="477" width="10" height="8" fill="#31c6ff"/>
<rect x="389" y="477" width="10" height="8" fill="#bae4ff"/>
<rect x="399" y="477" width="10" height="8" fill="#b8e3ff"/>
<rect x="409" y="477" width="11" height="8" fill="#b7e2ff"/>
<rect x="420" y="477" width="60" height="8" fill="#abd9ff"/>
<rect x="480" y="477" width="10" height="8" fill="#b1ddff"/>
<rect x="490" y="477" width="10" height="8" fill="#b2deff"/>
<rect x="500" y="477" width="10" height="8" fill="#b4e0ff"/>
<rect x="510" y="477" width="10" height="8" fill="#c0e8ff"/>
<rect x="520" y="477" width="10" height="8" fill="#c1e9ff"/>
<rect x="530" y="477" width="10" height="8" fill="#c2eaff"/>
<rect x="540" y="477" width="10" height="8" fill="#d4f7ff"/>
<rect x="550" y="477" width="10" height="8" fill="#d7f9ff"/>
<rect x="560" y="477" width="10" height="8" fill="#e6fff4"/>
<rect x="570" y="477" width="10" height="8" fill="#f9ffd3"/>
<rect x="580" y="477" width="10" height="8" fill="#fffcba"/>
<rect x="379" y="485" width="10" height="7" fill="#29c4ff"/>
<rect x="389" y="485" width="10" height="7" fill="#a5d5ff"/>
<rect x="399" y="485" width="21" height="7" fill="#95d3ff"/>
<rect x="420" y="485" width="10" height="7" fill="#74ceff"/>
<rect x="430" y="485" width="10" height="7" fill="#67cdff"/>
<rect x="440" y="485" width="30" height="7" fill="#5bcbff"/>
<rect x="470" y="485" width="30" height="7" fill="#a5d5ff"/>
<rect x="500" y="485" width="30" height="7" fill="#b4e0ff"/>
<rect x="530" y="485" width="20" height="7" fill="#c5ecff"/>
<rect x="550" y="485" width="10" height="7" fill="#d1f4ff"/>
<rect x="560" y="485" width="10" height="7" fill="#ddfdff"/>
<rect x="570" y="485" width="10" height="7" fill="#eeffe6"/>
<rect x="580" y="485" width="10" height="7" fill="#f9ffd3"/>
<rect x="379" y="492" width="10" height="8" fill="#abd9ff"/>
<rect x="389" y="492" width="31" height="8" fill="#4ac9ff"/>
<rect x="420" y="492" width="10" height="8" fill="#19c2ff"/>
<rect x="430" y="492" width="10" height="8" fill="#16c2ff"/>
<rect x="440" y="492" width="10" height="8" fill="#13c2ff"/>
<rect x="450" y="492" width="10" height="8" fill="#10c1ff"/>
<rect x="460" y="492" width="10" height="8" fill="#42c8ff"/>
<rect x="470" y="492" width="10" height="8" fill="#52caff"/>
<rect x="480" y="492" width="10" height="8" fill="#5bcbff"/>
<rect x="490" y="492" width="10" height="8" fill="#84d1ff"/>
<rect x="500" y="492" width="10" height="8" fill="#a5d5ff"/>
<rect x="510" y="492" width="10" height="8" fill="#a8d7ff"/>
<rect x="520" y="492" width="10" height="8" fill="#b4e0ff"/>
<rect x="530" y="492" width="10" height="8" fill="#b7e2ff"/>
<rect x="540" y="492" width="10" height="8" fill="#bae4ff"/>
<rect x="550" y="492" width="10" height="8" fill="#c5ecff"/>
<rect x="560" y="492" width="10" height="8" fill="#cef2ff"/>
<rect x="570" y="492" width="10" height="8" fill="#dafbff"/>
<rect x="580" y="492" width="10" height="8" fill="#e6fff4"/>
<rect x="389" y="500" width="10" height="8" fill="#19c2ff"/>
<rect x="399" y="500" width="10" height="8" fill="#10c1ff"/>
<rect x="409" y="500" width="11" height="8" fill="#08c0ff"/>
<rect x="420" y="500" width="70" height="8" fill="#00bfff"/>
<rect x="490" y="500" width="10" height="8" fill="#10c1ff"/>
<rect x="500" y="500" width="10" height="8" fill="#19c2ff"/>
<rect x="510" y="500" width="10" height="8" fill="#42c8ff"/>
<rect x="520" y="500" width="10" height="8" fill="#6bcdff"/>
<rect x="530" y="500" width="10" height="8" fill="#95d3ff"/>
<rect x="540" y="500" width="10" height="8" fill="#a5d5ff"/>
<rect x="550" y="500" width="10" height="8" fill="#b4e0ff"/>
<rect x="560" y="500" width="20" height="8" fill="#c0e8ff"/>
<rect x="580" y="500" width="10" height="8" fill="#c8eeff"/>
<rect x="389" y="508" width="10" height="7" fill="#09b1ff"/>
<rect x="399" y="508" width="21" height="7" fill="#0fa8ff"/>
<rect x="420" y="508" width="10" height="7" fill="#0cacff"/>
<rect x="430" y="508" width="10" height="7" fill="#0cadff"/>
<rect x="440" y="508" width="10" height="7" fill="#0badff"/>
<rect x="450" y="508" width="20" height="7" fill="#0baeff"/>
<rect x="470" y="508" width="10" height="7" fill="#0aafff"/>
<rect x="480" y="508" width="10" height="7" fill="#05b8ff"/>
<rect x="490" y="508" width="10" height="7" fill="#04b9ff"/>
<rect x="500" y="508" width="10" height="7" fill="#03baff"/>
<rect x="510" y="508" width="20" height="7" fill="#10c1ff"/>
<rect x="530" y="508" width="20" height="7" fill="#3ac7ff"/>
<rect x="550" y="508" width="10" height="7" fill="#5bcbff"/>
<rect x="560" y="508" width="10" height="7" fill="#95d3ff"/>
<rect x="570" y="508" width="10" height="7" fill="#abd9ff"/>
<rect x="580" y="508" width="10" height="7" fill="#b4e0ff"/>
<rect x="389" y="515" width="10" height="8" fill="#1899ff"/>
<rect x="399" y="515" width="21" height="8" fill="#1b95ff"/>
<rect x="420" y="515" width="10" height="8" fill="#159eff"/>
<rect x="430" y="515" width="10" height="8" fill="#159fff"/>
<rect x="440" y="515" width="10" height="8" fill="#149fff"/>
<rect x="450" y="515" width="30" height="8" fill="#14a0ff"/>
<rect x="480" y="515" width="10" height="8" fill="#0eaaff"/>
<rect x="490" y="515" width="20" height="8" fill="#0dabff"/>
<rect x="510" y="515" width="10" height="8" fill="#0cacff"/>
<rect x="520" y="515" width="10" height="8" fill="#06b6ff"/>
<rect x="530" y="515" width="10" height="8" fill="#05b7ff"/>
<rect x="540" y="515" width="10" height="8" fill="#05b8ff"/>
<rect x="550" y="515" width="20" height="8" fill="#10c1ff"/>
<rect x="570" y="515" width="10" height="8" fill="#3ac7ff"/>
<rect x="580" y="515" width="10" height="8" fill="#84d1ff"/>
<rect x="389" y="523" width="10" height="8" fill="#00bfff"/>
<rect x="399" y="523" width="10" height="8" fill="#208efe"/>
<rect x="409" y="523" width="11" height="8" fill="#1e90ff"/>
<rect x="420" y="523" width="10" height="8" fill="#1d92ff"/>
<rect x="430" y="523" width="10" height="8" fill="#1e91ff"/>
<rect x="440" y="523" width="10" height="8" fill="#1f8ffe"/>
<rect x="450" y="523" width="50" height="8" fill="#208efe"/>
<rect x="500" y="523" width="30" height="8" fill="#1b95ff"/>
<rect x="530" y="523" width="20" height="8" fill="#1a96ff"/>
<rect x="550" y="523" width="10" height="8" fill="#1a97ff"/>
<rect x="560" y="523" width="10" height="8" fill="#1997ff"/>
<rect x="570" y="523" width="10" height="8" fill="#0fa8ff"/>
<rect x="580" y="523" width="10" height="8" fill="#00bfff"/>
<rect x="389" y="531" width="10" height="7" fill="#95d3ff"/>
<rect x="399" y="531" width="10" height="7" fill="#228cfc"/>
<rect x="409" y="531" width="11" height="7" fill="#218dfd"/>
<rect x="420" y="531" width="10" height="7" fill="#208efe"/>
<rect x="430" y="531" width="10" height="7" fill="#228bfb"/>
<rect x="440" y="531" width="50" height="7" fill="#2588f9"/>
<rect x="490" y="531" width="20" height="7" fill="#2c80f3"/>
<rect x="510" y="531" width="10" height="7" fill="#228cfc"/>
<rect x="520" y="531" width="50" height="7" fill="#1e90ff"/>
<rect x="570" y="531" width="10" height="7" fill="#1899ff"/>
<rect x="580" y="531" width="10" height="7" fill="#09b1ff"/>
<rect x="399" y="538" width="31" height="8" fill="#1d92ff"/>
<rect x="430" y="538" width="10" height="8" fill="#218dfd"/>
<rect x="440" y="538" width="40" height="8" fill="#2588f9"/>
<rect x="480" y="538" width="40" height="8" fill="#317bee"/>
<rect x="520" y="538" width="10" height="8" fill="#2884f6"/>
<rect x="530" y="538" width="50" height="8" fill="#2588f9"/>
<rect x="580" y="538" width="10" height="8" fill="#169cff"/>
<rect x="399" y="546" width="10" height="8" fill="#159eff"/>
<rect x="409" y="546" width="11" height="8" fill="#169cff"/>
<rect x="420" y="546" width="10" height="8" fill="#1899ff"/>
<rect x="430" y="546" width="10" height="8" fill="#1c94ff"/>
<rect x="440" y="546" width="40" height="8" fill="#208efe"/>
<rect x="480" y="546" width="20" height="8" fill="#2884f6"/>
<rect x="500" y="546" width="50" height="8" fill="#3379ed"/>
<rect x="550" y="546" width="40" height="8" fill="#2884f6"/>
<rect x="399" y="554" width="10" height="7" fill="#09b1ff"/>
<rect x="409" y="554" width="31" height="7" fill="#0eaaff"/>
<rect x="440" y="554" width="10" height="7" fill="#1b95ff"/>
<rect x="450" y="554" width="10" height="7" fill="#1b94ff"/>
<rect x="460" y="554" width="10" height="7" fill="#1c94ff"/>
<rect x="470" y="554" width="10" height="7" fill="#1c93ff"/>
<rect x="480" y="554" width="10" height="7" fill="#1d92ff"/>
<rect x="490" y="554" width="10" height="7" fill="#1e90ff"/>
<rect x="500" y="554" width="10" height="7" fill="#208efe"/>
<rect x="510" y="554" width="20" height="7" fill="#2a82f4"/>
<rect x="530" y="554" width="10" height="7" fill="#3577ec"/>
<rect x="540" y="554" width="10" height="7" fill="#3576eb"/>
<rect x="550" y="554" width="10" height="7" fill="#3676eb"/>
<rect x="560" y="554" width="10" height="7" fill="#3675ea"/>
<rect x="570" y="554" width="10" height="7" fill="#3775ea"/>
<rect x="580" y="554" width="10" height="7" fill="#2e7ef2"/>
<rect x="399" y="561" width="10" height="8" fill="#00bfff"/>
<rect x="409" y="561" width="11" height="8" fill="#03baff"/>
<rect x="420" y="561" width="20" height="8" fill="#05b8ff"/>
<rect x="440" y="561" width="30" height="8" fill="#14a0ff"/>
<rect x="470" y="561" width="10" height="8" fill="#149fff"/>
<rect x="480" y="561" width="10" height="8" fill="#159fff"/>
<rect x="490" y="561" width="10" height="8" fill="#159eff"/>
<rect x="500" y="561" width="10" height="8" fill="#169cff"/>
<rect x="510" y="561" width="10" height="8" fill="#1899ff"/>
<rect x="520" y="561" width="20" height="8" fill="#2884f6"/>
<rect x="540" y="561" width="10" height="8" fill="#3a71e7"/>
<rect x="550" y="561" width="10" height="8" fill="#3b70e6"/>
<rect x="560" y="561" width="10" height="8" fill="#3b6fe6"/>
<rect x="570" y="561" width="10" height="8" fill="#3c6ee5"/>
<rect x="580" y="561" width="10" height="8" fill="#3d6ee5"/>
<rect x="590" y="561" width="10" height="8" fill="#3e6de4"/>
<rect x="399" y="569" width="10" height="8" fill="#21c3ff"/>
<rect x="409" y="569" width="11" height="8" fill="#fff392"/>
<rect x="420" y="569" width="10" height="8" fill="#ff6b00"/>
<rect x="430" y="569" width="10" height="8" fill="#c2eaff"/>
<rect x="440" y="569" width="10" height="8" fill="#0d15d1"/>
<rect x="450" y="569" width="10" height="8" fill="#3775ea"/>
<rect x="460" y="569" width="10" height="8" fill="#e3fffa"/>
<rect x="470" y="569" width="10" height="8" fill="#ffbd1a"/>
<rect x="480" y="569" width="10" height="8" fill="#f0ffe4"/>
<rect x="490" y="569" width="10" height="8" fill="#42c8ff"/>
<rect x="500" y="569" width="10" height="8" fill="#3a71e7"/>
<rect x="510" y="569" width="10" height="8" fill="#2c80f3"/>
<rect x="520" y="569" width="10" height="8" fill="#21c3ff"/>
<rect x="530" y="569" width="10" height="8" fill="#0cacff"/>
<rect x="540" y="569" width="10" height="8" fill="#3a71e7"/>
<rect x="550" y="569" width="10" height="8" fill="#273fd9"/>
<rect x="560" y="569" width="10" height="8" fill="#00009f"/>
<rect x="570" y="569" width="10" height="8" fill="#7922e6"/>
</g>
<rect x="419" y="186" width="1" height="383" fill="#fff" shape-rendering="crispEdges"/>
<g fill="none" stroke="#fff" stroke-width="0.8"><circle cx="295.2" cy="186.7" r="3.6"/><circle cx="404" cy="222.2" r="3.6"/><circle cx="345.6" cy="257.4" r="3.6"/><circle cx="492.4" cy="195.8" r="3.6"/><circle cx="558.9" cy="211.8" r="3.6"/><circle cx="581.5" cy="259.1" r="3.6"/><circle cx="424.6" cy="297.5" r="3.6"/><circle cx="530.1" cy="307.8" r="3.6"/><circle cx="499.8" cy="315.5" r="3.6"/><circle cx="548.6" cy="313" r="3.6"/><circle cx="562.3" cy="323.8" r="3.6"/><circle cx="376.3" cy="346" r="3.6"/><circle cx="407" cy="362.6" r="3.6"/><circle cx="411" cy="373" r="3.6"/><circle cx="481.2" cy="402" r="3.6"/><circle cx="574.6" cy="388" r="3.6"/><circle cx="565" cy="398.8" r="3.6"/><circle cx="392.5" cy="439" r="3.6"/><circle cx="411.2" cy="450.3" r="3.6"/><circle cx="572.2" cy="453.2" r="3.6"/><circle cx="464.7" cy="488.8" r="3.6"/><circle cx="582.8" cy="485.7" r="3.6"/><circle cx="397.9" cy="515.3" r="3.6"/><circle cx="429.8" cy="511.4" r="3.6"/><circle cx="419.3" cy="526.4" r="3.6"/><circle cx="433.3" cy="529.9" r="3.6"/><circle cx="444.4" cy="529.7" r="3.6"/><circle cx="484.4" cy="529.9" r="3.6"/><circle cx="491.4" cy="529.9" r="3.6"/><circle cx="529.8" cy="529.9" r="3.6"/><circle cx="538.2" cy="529.9" r="3.6"/><circle cx="567" cy="518.2" r="3.6"/><circle cx="569.9" cy="529.9" r="3.6"/><circle cx="584.4" cy="567.3" r="3.6"/><circle cx="592.4" cy="566.2" r="3.6"/><circle cx="401.8" cy="571.5" r="3.6"/><circle cx="403.5" cy="571.5" r="3.6"/><circle cx="405.2" cy="571.5" r="3.6"/><circle cx="412.8" cy="571.5" r="3.6"/><circle cx="415.3" cy="571.5" r="3.6"/><circle cx="422.9" cy="571.5" r="3.6"/><circle cx="444.1" cy="571.5" r="3.6"/><circle cx="445.8" cy="571.5" r="3.6"/><circle cx="447.5" cy="571.5" r="3.6"/><circle cx="450.8" cy="571" r="3.6"/><circle cx="452.5" cy="571.3" r="3.6"/><circle cx="463.5" cy="571.5" r="3.6"/><circle cx="466.9" cy="571.5" r="3.6"/><circle cx="473.7" cy="571.5" r="3.6"/><circle cx="505.9" cy="571.4" r="3.6"/><circle cx="508.5" cy="571.4" r="3.6"/><circle cx="512.1" cy="571.4" r="3.6"/><circle cx="515.2" cy="571.1" r="3.6"/><circle cx="517.1" cy="570.6" r="3.6"/><circle cx="549.6" cy="571.4" r="3.6"/><circle cx="553.6" cy="571.4" r="3.6"/><circle cx="555.8" cy="571.4" r="3.6"/><circle cx="560.2" cy="571.4" r="3.6"/><circle cx="571.7" cy="571.4" r="3.6"/></g>
<g shape-rendering="crispEdges"><rect x="105.5" y="78.65" width="4.44" height="39.6" fill="#7e24ea"/><rect x="109.64" y="78.65" width="4.44" height="39.6" fill="#6d1fdd"/><rect x="113.78" y="78.65" width="4.44" height="39.6" fill="#5c1ad1"/><rect x="117.92" y="78.65" width="4.44" height="39.6" fill="#4c16c4"/><rect x="122.06" y="78.65" width="4.44" height="39.6" fill="#3b11b8"/><rect x="126.2" y="78.65" width="4.44" height="39.6" fill="#2b0cab"/><rect x="130.34" y="78.65" width="4.44" height="39.6" fill="#1a079f"/><rect x="134.48" y="78.65" width="4.44" height="39.6" fill="#090392"/><rect x="138.63" y="78.65" width="4.44" height="39.6" fill="#00008f"/><rect x="142.77" y="78.65" width="4.44" height="39.6" fill="#000097"/><rect x="146.91" y="78.65" width="4.44" height="39.6" fill="#00009f"/><rect x="151.05" y="78.65" width="4.44" height="39.6" fill="#0000a7"/><rect x="155.19" y="78.65" width="4.44" height="39.6" fill="#0000af"/><rect x="159.33" y="78.65" width="4.44" height="39.6" fill="#0000b7"/><rect x="163.47" y="78.65" width="4.44" height="39.6" fill="#0000c0"/><rect x="167.61" y="78.65" width="4.44" height="39.6" fill="#0000c8"/><rect x="171.75" y="78.65" width="4.44" height="39.6" fill="#0305ce"/><rect x="175.89" y="78.65" width="4.44" height="39.6" fill="#0b12d0"/><rect x="180.03" y="78.65" width="4.44" height="39.6" fill="#131fd3"/><rect x="184.17" y="78.65" width="4.44" height="39.6" fill="#1b2cd5"/><rect x="188.31" y="78.65" width="4.44" height="39.6" fill="#2339d8"/><rect x="192.45" y="78.65" width="4.44" height="39.6" fill="#2b46da"/><rect x="196.6" y="78.65" width="4.44" height="39.6" fill="#3353dd"/><rect x="200.74" y="78.65" width="4.44" height="39.6" fill="#3b60df"/><rect x="204.88" y="78.65" width="4.44" height="39.6" fill="#406ae2"/><rect x="209.02" y="78.65" width="4.44" height="39.6" fill="#3b6fe6"/><rect x="213.16" y="78.65" width="4.44" height="39.6" fill="#3774e9"/><rect x="217.3" y="78.65" width="4.44" height="39.6" fill="#3379ed"/><rect x="221.44" y="78.65" width="4.44" height="39.6" fill="#2e7ef1"/><rect x="225.58" y="78.65" width="4.44" height="39.6" fill="#2a83f5"/><rect x="229.72" y="78.65" width="4.44" height="39.6" fill="#2687f8"/><rect x="233.86" y="78.65" width="4.44" height="39.6" fill="#218cfc"/><rect x="238" y="78.65" width="4.44" height="39.6" fill="#1d91ff"/><rect x="242.14" y="78.65" width="4.44" height="39.6" fill="#1997ff"/><rect x="246.28" y="78.65" width="4.44" height="39.6" fill="#169dff"/><rect x="250.42" y="78.65" width="4.44" height="39.6" fill="#12a3ff"/><rect x="254.57" y="78.65" width="4.44" height="39.6" fill="#0ea9ff"/><rect x="258.71" y="78.65" width="4.44" height="39.6" fill="#0baeff"/><rect x="262.85" y="78.65" width="4.44" height="39.6" fill="#07b4ff"/><rect x="266.99" y="78.65" width="4.44" height="39.6" fill="#03baff"/><rect x="271.13" y="78.65" width="4.44" height="39.6" fill="#03bfff"/><rect x="275.27" y="78.65" width="4.44" height="39.6" fill="#17c2ff"/><rect x="279.41" y="78.65" width="4.44" height="39.6" fill="#2cc5ff"/><rect x="283.55" y="78.65" width="4.44" height="39.6" fill="#40c8ff"/><rect x="287.69" y="78.65" width="4.44" height="39.6" fill="#55caff"/><rect x="291.83" y="78.65" width="4.44" height="39.6" fill="#69cdff"/><rect x="295.97" y="78.65" width="4.44" height="39.6" fill="#7ed0ff"/><rect x="300.11" y="78.65" width="4.44" height="39.6" fill="#92d2ff"/><rect x="304.25" y="78.65" width="4.44" height="39.6" fill="#a6d5ff"/><rect x="308.39" y="78.65" width="4.44" height="39.6" fill="#addbff"/><rect x="312.54" y="78.65" width="4.44" height="39.6" fill="#b4e0ff"/><rect x="316.68" y="78.65" width="4.44" height="39.6" fill="#bbe5ff"/><rect x="320.82" y="78.65" width="4.44" height="39.6" fill="#c3eaff"/><rect x="324.96" y="78.65" width="4.44" height="39.6" fill="#caefff"/><rect x="329.1" y="78.65" width="4.44" height="39.6" fill="#d1f5ff"/><rect x="333.24" y="78.65" width="4.44" height="39.6" fill="#d9faff"/><rect x="337.38" y="78.65" width="4.44" height="39.6" fill="#e0ffff"/><rect x="341.52" y="78.65" width="4.44" height="39.6" fill="#e4fff8"/><rect x="345.66" y="78.65" width="4.44" height="39.6" fill="#e8fff1"/><rect x="349.8" y="78.65" width="4.44" height="39.6" fill="#ecffeb"/><rect x="353.94" y="78.65" width="4.44" height="39.6" fill="#efffe4"/><rect x="358.08" y="78.65" width="4.44" height="39.6" fill="#f3ffdd"/><rect x="362.22" y="78.65" width="4.44" height="39.6" fill="#f7ffd6"/><rect x="366.36" y="78.65" width="4.44" height="39.6" fill="#fbffcf"/><rect x="370.51" y="78.65" width="4.44" height="39.6" fill="#ffffc8"/><rect x="374.65" y="78.65" width="4.44" height="39.6" fill="#fffcb8"/><rect x="378.79" y="78.65" width="4.44" height="39.6" fill="#fff8a8"/><rect x="382.93" y="78.65" width="4.44" height="39.6" fill="#fff497"/><rect x="387.07" y="78.65" width="4.44" height="39.6" fill="#fff186"/><rect x="391.21" y="78.65" width="4.44" height="39.6" fill="#ffed75"/><rect x="395.35" y="78.65" width="4.44" height="39.6" fill="#ffea64"/><rect x="399.49" y="78.65" width="4.44" height="39.6" fill="#ffe653"/><rect x="403.63" y="78.65" width="4.44" height="39.6" fill="#ffe342"/><rect x="407.77" y="78.65" width="4.44" height="39.6" fill="#ffdc39"/><rect x="411.91" y="78.65" width="4.44" height="39.6" fill="#ffd431"/><rect x="416.05" y="78.65" width="4.44" height="39.6" fill="#ffcc29"/><rect x="420.19" y="78.65" width="4.44" height="39.6" fill="#ffc521"/><rect x="424.33" y="78.65" width="4.44" height="39.6" fill="#ffbd19"/><rect x="428.48" y="78.65" width="4.44" height="39.6" fill="#ffb612"/><rect x="432.62" y="78.65" width="4.44" height="39.6" fill="#ffae0a"/><rect x="436.76" y="78.65" width="4.44" height="39.6" fill="#ffa702"/><rect x="440.9" y="78.65" width="4.44" height="39.6" fill="#ff9c00"/><rect x="445.04" y="78.65" width="4.44" height="39.6" fill="#ff9000"/><rect x="449.18" y="78.65" width="4.44" height="39.6" fill="#ff8400"/><rect x="453.32" y="78.65" width="4.44" height="39.6" fill="#ff7800"/><rect x="457.46" y="78.65" width="4.44" height="39.6" fill="#ff6c00"/><rect x="461.6" y="78.65" width="4.44" height="39.6" fill="#ff6000"/><rect x="465.74" y="78.65" width="4.44" height="39.6" fill="#ff5400"/><rect x="469.88" y="78.65" width="4.44" height="39.6" fill="#ff4800"/><rect x="474.02" y="78.65" width="4.44" height="39.6" fill="#ff3f00"/><rect x="478.16" y="78.65" width="4.44" height="39.6" fill="#ff3600"/><rect x="482.3" y="78.65" width="4.44" height="39.6" fill="#ff2e00"/><rect x="486.45" y="78.65" width="4.44" height="39.6" fill="#ff2500"/><rect x="490.59" y="78.65" width="4.44" height="39.6" fill="#ff1d00"/><rect x="494.73" y="78.65" width="4.44" height="39.6" fill="#ff1400"/><rect x="498.87" y="78.65" width="4.44" height="39.6" fill="#ff0c00"/><rect x="503.01" y="78.65" width="4.44" height="39.6" fill="#ff0300"/><rect x="507.15" y="78.65" width="4.44" height="39.6" fill="#fb0000"/><rect x="511.29" y="78.65" width="4.44" height="39.6" fill="#f50000"/><rect x="515.43" y="78.65" width="4.44" height="39.6" fill="#ef0000"/><rect x="519.57" y="78.65" width="4.44" height="39.6" fill="#e80000"/><rect x="523.71" y="78.65" width="4.44" height="39.6" fill="#e20000"/><rect x="527.85" y="78.65" width="4.44" height="39.6" fill="#dc0000"/><rect x="531.99" y="78.65" width="4.44" height="39.6" fill="#d60000"/><rect x="536.13" y="78.65" width="4.44" height="39.6" fill="#d00000"/><rect x="540.27" y="78.65" width="4.44" height="39.6" fill="#ca0202"/><rect x="544.42" y="78.65" width="4.44" height="39.6" fill="#c50606"/><rect x="548.56" y="78.65" width="4.44" height="39.6" fill="#bf0a0a"/><rect x="552.7" y="78.65" width="4.44" height="39.6" fill="#ba0d0e"/><rect x="556.84" y="78.65" width="4.44" height="39.6" fill="#b51112"/><rect x="560.98" y="78.65" width="4.44" height="39.6" fill="#af1516"/><rect x="565.12" y="78.65" width="4.44" height="39.6" fill="#aa181a"/><rect x="569.26" y="78.65" width="4.44" height="39.6" fill="#a51c1e"/></g>
<rect x="105.5" y="78.65" width="467.9" height="39.6" fill="none" stroke="#000" stroke-width="0.7"/>
<line x1="111.45" y1="118.25" x2="491.5" y2="118.25" stroke="#000" stroke-width="1"/>
<line x1="111.5" y1="78.65" x2="111.5" y2="125.85" stroke="#000" stroke-width="1"/><text class="c" x="111.45" y="144.5">391.5</text>
<line x1="206.5" y1="78.65" x2="206.5" y2="125.85" stroke="#000" stroke-width="1"/><text class="c" x="206.45" y="144.5">392.0</text>
<line x1="301.5" y1="78.65" x2="301.5" y2="125.85" stroke="#000" stroke-width="1"/><text class="c" x="301.5" y="144.5">392.5</text>
<line x1="396.5" y1="78.65" x2="396.5" y2="125.85" stroke="#000" stroke-width="1"/><text class="c" x="396.5" y="144.5">393.0</text>
<line x1="491.5" y1="78.65" x2="491.5" y2="125.85" stroke="#000" stroke-width="1"/><text class="c" x="491.5" y="144.5">393.5</text>
<rect x="59.04" y="59.04" width="560.72" height="517.52" fill="none" stroke="#000" stroke-width="1"/>
<line x1="119.12" y1="576.56" x2="599.73" y2="576.56" stroke="#000" stroke-width="1"/>
<line x1="59.04" y1="576.56" x2="59.04" y2="117.22" stroke="#000" stroke-width="1"/>
<line x1="119.12" y1="576.56" x2="119.12" y2="583.76" stroke="#000" stroke-width="1"/><text class="l n" x="119.12" y="601.8">-70</text>
<line x1="199.22" y1="576.56" x2="199.22" y2="583.76" stroke="#000" stroke-width="1"/><text class="l n" x="199.22" y="601.8">-68</text>
<line x1="279.32" y1="576.56" x2="279.32" y2="583.76" stroke="#000" stroke-width="1"/><text class="l n" x="279.32" y="601.8">-66</text>
<line x1="359.43" y1="576.56" x2="359.43" y2="583.76" stroke="#000" stroke-width="1"/><text class="l n" x="359.43" y="601.8">-64</text>
<line x1="439.53" y1="576.56" x2="439.53" y2="583.76" stroke="#000" stroke-width="1"/><text class="l n" x="439.53" y="601.8">-62</text>
<line x1="519.63" y1="576.56" x2="519.63" y2="583.76" stroke="#000" stroke-width="1"/><text class="l n" x="519.63" y="601.8">-60</text>
<line x1="599.73" y1="576.56" x2="599.73" y2="583.76" stroke="#000" stroke-width="1"/><text class="l n" x="599.73" y="601.8">-58</text>
<line x1="51.84" y1="576.56" x2="59.04" y2="576.56" stroke="#000" stroke-width="1"/><text class="l" transform="translate(42.3,576.56) rotate(-90)">0</text>
<line x1="51.84" y1="423.45" x2="59.04" y2="423.45" stroke="#000" stroke-width="1"/><text class="l" transform="translate(42.3,423.45) rotate(-90)">5000</text>
<line x1="51.84" y1="270.34" x2="59.04" y2="270.34" stroke="#000" stroke-width="1"/><text class="l" transform="translate(42.3,270.34) rotate(-90)">10000</text>
<line x1="51.84" y1="117.22" x2="59.04" y2="117.22" stroke="#000" stroke-width="1"/><text class="l" transform="translate(42.3,117.22) rotate(-90)">15000</text>
<g stroke="#000" stroke-width="2" fill="none" stroke-linecap="round" stroke-linejoin="round"><path d="M85 556.3 L85 576 M80.8 570 L85 576.4 L89.2 570"/></g>
<text class="t" transform="translate(339.2,35.5) scale(1.041,1)">ORCAS RF07vlon CO2_FMPD_SUM</text>
<text class="s" transform="translate(62.2,51.9) rotate(0.03) scale(1.01,1)">Flts: 7</text>
<text class="s m" transform="translate(62.2,70.8) rotate(0.03) scale(1.03,1)">MMDD: 0130</text>
<text class="l k" transform="translate(339.5,630.4) scale(1.047,1)">Longitude (deg E)</text>
<text class="l k" transform="translate(12.8,317.5) rotate(-90) scale(1.047,1)">Altitude (m)</text>
</svg>
</body>
</html>
